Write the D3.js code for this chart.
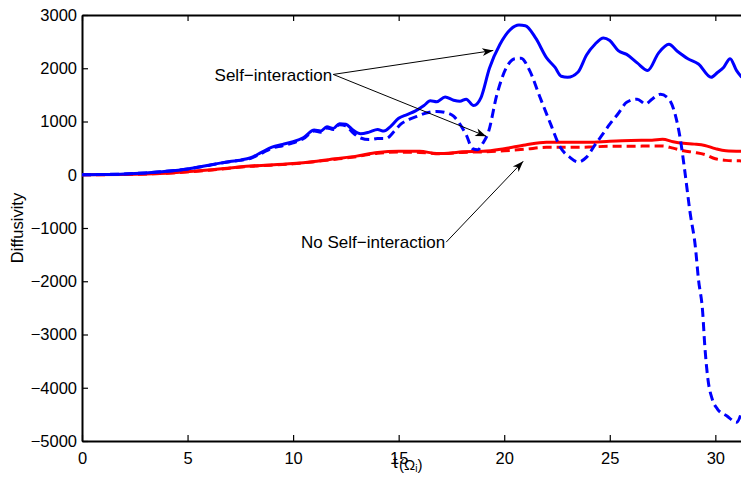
<!DOCTYPE html>
<html>
<head>
<meta charset="utf-8">
<script src="https://cdn.jsdelivr.net/npm/d3@7/dist/d3.min.js"></script>
<style>
  body { margin: 0; background: #fff; }
  svg { display: block; font-family: "Liberation Sans", Arial, sans-serif; }
</style>
</head>
<body>
<div id="chart"></div>
<script>
// data: [t, diffusivity]
const selfSolid = [
  [0, 0], [1, 5], [2, 15], [3, 35], [4, 65], [5, 110], [6, 180], [7, 250],
  [7.5, 275], [8, 320], [8.5, 420], [9, 520], [9.5, 570], [10, 620], [10.5, 700],
  [11, 840], [11.3, 820], [11.6, 900], [11.9, 870], [12.2, 960], [12.5, 950],
  [12.8, 850], [13.2, 770], [13.6, 800], [14.0, 850], [14.3, 820], [14.6, 900],
  [15.0, 1060], [15.4, 1130], [15.8, 1200], [16.2, 1300], [16.5, 1390],
  [16.8, 1370], [17.2, 1460], [17.6, 1400], [17.9, 1380], [18.2, 1420],
  [18.55, 1300], [18.9, 1450], [19.3, 2000], [19.8, 2450], [20.3, 2730],
  [20.7, 2810], [21.0, 2800], [21.5, 2560], [22.0, 2200], [22.4, 2020],
  [22.7, 1850], [23.0, 1830], [23.5, 1930], [23.9, 2250], [24.3, 2450],
  [24.7, 2570], [25.0, 2520], [25.4, 2330], [25.8, 2260], [26.3, 2100],
  [26.8, 1960], [27.3, 2280], [27.8, 2450], [28.2, 2320], [28.7, 2180],
  [29.2, 2080], [29.8, 1830], [30.1, 1920], [30.4, 2020], [30.7, 2180],
  [31.0, 1960], [31.25, 1830]
];

const selfDashed = [
  [0, 0], [1, 5], [2, 15], [3, 35], [4, 65], [5, 108], [6, 175], [7, 245],
  [7.5, 270], [8, 310], [8.5, 400], [9, 500], [9.5, 545], [10, 600], [10.5, 680],
  [11, 820], [11.3, 800], [11.6, 880], [11.9, 850], [12.2, 940], [12.5, 920],
  [12.8, 800], [13.2, 690], [13.6, 660], [14.0, 680], [14.4, 680], [14.8, 820],
  [15.1, 950], [15.5, 1040], [15.9, 1100], [16.3, 1160], [16.8, 1190],
  [17.2, 1170], [17.6, 1100], [17.9, 950], [18.2, 750], [18.5, 490],
  [18.75, 470], [19.0, 600], [19.25, 800], [19.65, 1500], [20.1, 2010],
  [20.5, 2180], [20.8, 2190], [21.2, 1960], [21.7, 1450], [22.2, 950],
  [22.65, 520], [23.1, 330], [23.5, 240], [23.9, 330], [24.3, 560], [24.7, 780],
  [25.0, 950], [25.4, 1150], [25.8, 1360], [26.3, 1420], [26.7, 1330],
  [27.0, 1420], [27.4, 1510], [27.8, 1420], [28.1, 1130], [28.35, 650],
  [28.55, 80], [28.8, -700], [29.05, -1340], [29.2, -1960], [29.4, -2580],
  [29.5, -3210], [29.65, -3840], [29.85, -4210], [30.1, -4400], [30.55, -4530],
  [31.0, -4650], [31.25, -4450]
];

const noSelfSolid = [
  [0, 0], [2, 5], [4, 30], [6, 90], [8, 165], [10, 210], [11, 250], [12, 300],
  [13, 350], [14, 420], [15, 440], [16, 440], [16.8, 400], [17.5, 410],
  [18, 430], [19, 440], [20, 490], [21, 560], [22, 610], [23, 610], [24, 610],
  [25, 630], [26, 645], [27, 650], [27.5, 665], [28, 620], [28.5, 590],
  [29, 575], [29.5, 550], [30, 490], [30.5, 450], [31.25, 440]
];

const noSelfDashed = [
  [0, 0], [2, 5], [4, 28], [6, 85], [8, 160], [10, 205], [11, 245], [12, 290],
  [13, 340], [14, 405], [15, 425], [16, 420], [17, 395], [18, 420], [19, 430],
  [20, 450], [21, 480], [22, 515], [23, 515], [24, 520], [25, 535], [26, 535],
  [27, 540], [27.5, 540], [28, 500], [28.5, 450], [29, 420], [29.5, 380],
  [30, 300], [30.5, 270], [31.25, 260]
];

const xTicks = [0, 5, 10, 15, 20, 25, 30];
const yTicks = [-5000, -4000, -3000, -2000, -1000, 0, 1000, 2000, 3000];

// annotations, data coords: label anchor + arrow tips
const selfLabel = { text: "Self\u2212interaction", from: [11.9, 1884] };
const selfTips = [[19.48, 2334], [19.15, 722]];
const noSelfLabel = { text: "No Self\u2212interaction", from: [17.25, -1266] };
const noSelfTips = [[20.9, 253]];

const width = 741;
const height = 478;
const margin = { top: 15, right: -6, bottom: 37, left: 82 };

const svg = d3.select("#chart")
  .append("svg")
  .attr("width", width)
  .attr("height", height);

const x = d3.scaleLinear().domain([0, 31.5]).range([margin.left, width - margin.right]);
const y = d3.scaleLinear().domain([-5000, 3000]).range([height - margin.bottom, margin.top]);

svg.append("defs").append("clipPath").attr("id", "plotClip")
  .append("rect")
  .attr("x", x(0)).attr("y", y(3000))
  .attr("width", x(31.5) - x(0)).attr("height", y(-5000) - y(3000));

svg.select("defs").append("marker")
  .attr("id", "arrow")
  .attr("viewBox", "-12 -6 14 12")
  .attr("refX", 0).attr("refY", 0)
  .attr("markerWidth", 14).attr("markerHeight", 12)
  .attr("markerUnits", "userSpaceOnUse")
  .attr("orient", "auto")
  .append("path")
  .attr("d", "M0,0 L-11,-4 L-8,0 L-11,4 Z")
  .attr("fill", "#000");

//axes, matlab style: ticks inward on all four sides
const tickLen = 6;
const fontSize = 16.5;

const bottomAxis = svg.append("g")
  .attr("transform", `translate(0,${y(-5000)})`)
  .call(d3.axisBottom(x).tickValues(xTicks).tickSizeInner(-tickLen).tickSizeOuter(0).tickPadding(11));
const topAxis = svg.append("g")
  .attr("transform", `translate(0,${y(3000)})`)
  .call(d3.axisTop(x).tickValues(xTicks).tickSizeInner(-tickLen).tickSizeOuter(0).tickFormat(""));
const leftAxis = svg.append("g")
  .attr("transform", `translate(${x(0)},0)`)
  .call(d3.axisLeft(y).tickValues(yTicks).tickSizeInner(-tickLen).tickSizeOuter(0).tickPadding(5)
    .tickFormat((d) => String(d).replace("-", "\u2212")));
const rightAxis = svg.append("g")
  .attr("transform", `translate(${x(31.5)},0)`)
  .call(d3.axisRight(y).tickValues(yTicks).tickSizeInner(-tickLen).tickSizeOuter(0).tickFormat(""));

[bottomAxis, topAxis, leftAxis, rightAxis].forEach((a) => {
  a.select(".domain").attr("stroke", "#000").attr("stroke-width", 2);
  a.selectAll(".tick line").attr("stroke", "#000").attr("stroke-width", 1.2);
  a.selectAll("text")
    .attr("fill", "#000")
    .attr("font-size", fontSize)
    .attr("font-family", "Liberation Sans, Arial, sans-serif");
});

//curves
const line = d3.line()
  .x((d) => x(d[0]))
  .y((d) => y(d[1]))
  .curve(d3.curveMonotoneX);

const series = [
  { data: noSelfDashed, color: "#ff0000", dash: "9,5" },
  { data: noSelfSolid, color: "#ff0000", dash: null },
  { data: selfDashed, color: "#0000ff", dash: "9,5" },
  { data: selfSolid, color: "#0000ff", dash: null },
];

const plot = svg.append("g").attr("clip-path", "url(#plotClip)");
plot.selectAll("path")
  .data(series)
  .join("path")
  .attr("d", (d) => line(d.data))
  .attr("fill", "none")
  .attr("stroke", (d) => d.color)
  .attr("stroke-width", 3)
  .attr("stroke-dasharray", (d) => d.dash)
  .attr("stroke-linejoin", "round");

//annotations
function annotate(label, tips) {
  const [fx, fy] = [x(label.from[0]), y(label.from[1])];
  svg.append("g")
    .selectAll("line")
    .data(tips)
    .join("line")
    .attr("x1", fx).attr("y1", fy)
    .attr("x2", (d) => x(d[0])).attr("y2", (d) => y(d[1]))
    .attr("stroke", "#000")
    .attr("stroke-width", 1)
    .attr("marker-end", "url(#arrow)");
  svg.append("text")
    .attr("x", fx - 1)
    .attr("y", fy)
    .attr("dy", "0.36em")
    .attr("text-anchor", "end")
    .attr("font-size", 17)
    .attr("fill", "#000")
    .text(label.text);
}
annotate(selfLabel, selfTips);
annotate(noSelfLabel, noSelfTips);

//axis labels
svg.append("text")
  .attr("transform", `translate(23,${(y(3000) + y(-5000)) / 2}) rotate(-90)`)
  .attr("text-anchor", "middle")
  .attr("font-size", 16.5)
  .attr("fill", "#000")
  .text("Diffusivity");

// t with a (Ω_i) subscript, sits over the "15" label as in the original
const xl = svg.append("text")
  .attr("x", 393)
  .attr("y", 468)
  .attr("text-anchor", "start")
  .attr("font-size", 16.5)
  .attr("fill", "#000");
xl.append("tspan").text("t");
xl.append("tspan").attr("font-size", 15).attr("dx", 1.5).attr("dy", 2).text("(\u03a9");
xl.append("tspan").attr("font-size", 10).attr("dy", 2).text("i");
xl.append("tspan").attr("font-size", 15).attr("dy", -2).text(")");
</script>
</body>
</html>
